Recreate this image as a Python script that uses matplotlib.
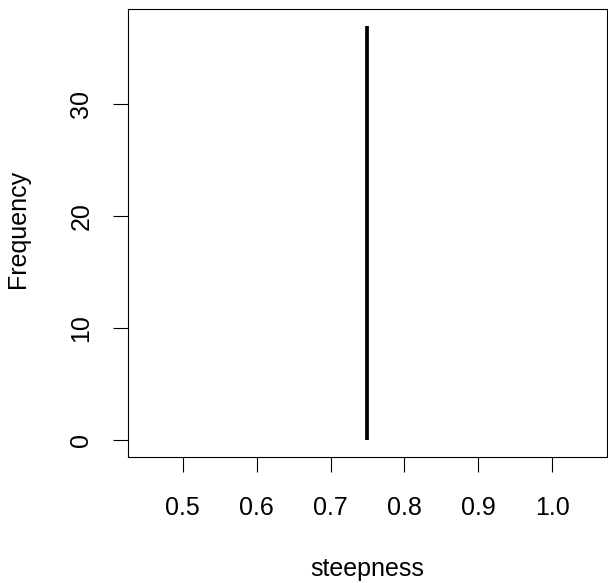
import matplotlib
matplotlib.use("Agg")
import matplotlib.pyplot as plt

steepness = [0.75]
frequency = [37]
x_ticks = [0.5, 0.6, 0.7, 0.8, 0.9, 1.0]
x_tick_labels = ["0.5", "0.6", "0.7", "0.8", "0.9", "1.0"]
y_ticks = [0, 10, 20, 30]
y_tick_labels = ["0", "10", "20", "30"]

plt.rcParams['font.family'] = ['Liberation Sans', 'DejaVu Sans']

W, H, DPI = 608, 583, 100
fig = plt.figure(figsize=(W / DPI, H / DPI), dpi=DPI)
left, right, top, bottom = 128, 607, 9, 457
ax = fig.add_axes([left / W, 1 - bottom / H, (right - left) / W, (bottom - top) / H])

ax.vlines(steepness, 0, frequency, color='black', linewidth=2.7, capstyle='butt')

xmin, xmax = 0.45, 1.05
ax.set_xlim(xmin - 0.04 * (xmax - xmin), xmax + 0.04 * (xmax - xmin))
ymax = max(frequency)
ax.set_ylim(-0.04 * ymax, ymax * 1.04)

fs = 18
ax.set_xticks(x_ticks)
ax.set_xticklabels(x_tick_labels, fontsize=fs)
ax.set_yticks(y_ticks)
ax.set_yticklabels(y_tick_labels, fontsize=fs, rotation=90, va='center')
ax.tick_params(axis='x', direction='out', length=11, width=0.8, pad=17)
ax.tick_params(axis='y', direction='out', length=11, width=0.8, pad=14)

for s in ax.spines.values():
    s.set_linewidth(0.8)

cx = (left + right) / 2 / W
fig.text(cx, 1 - 576 / H, "steepness", fontsize=fs, ha='center', va='baseline')
fig.text(25 / W, 1 - 229 / H, "Frequency", fontsize=fs, ha='center', va='baseline',
         rotation=90, rotation_mode='anchor')

fig.savefig("out.png", dpi=DPI)
